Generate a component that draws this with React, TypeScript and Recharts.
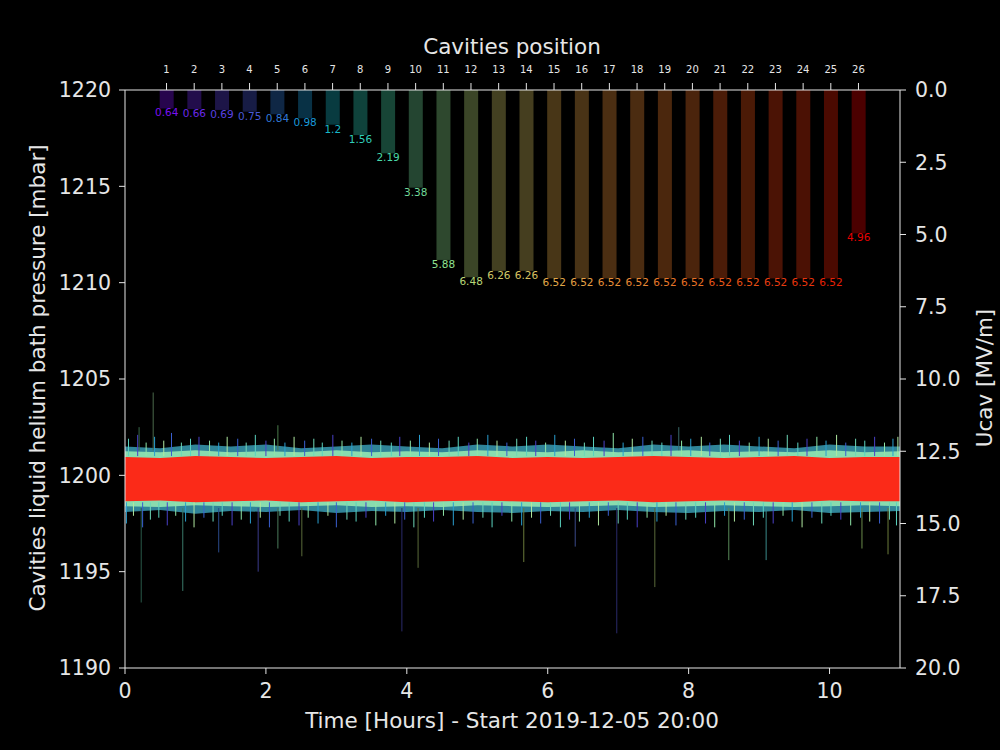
import React from 'react';
import { Area, Bar, ComposedChart, ReferenceLine, XAxis, YAxis } from 'recharts';

const FONT = '"DejaVu Sans", sans-serif';
const TEXT = '#e6e6e6';

// cavities (top axis / right axis)
const cavityPos = [1, 2, 3, 4, 5, 6, 7, 8, 9, 10, 11, 12, 13, 14, 15, 16, 17, 18, 19, 20, 21, 22, 23, 24, 25, 26];
const cavityUcav = [
  0.64, 0.66, 0.69, 0.75, 0.84, 0.98, 1.2, 1.56, 2.19, 3.38, 5.88, 6.48, 6.26, 6.26,
  6.52, 6.52, 6.52, 6.52, 6.52, 6.52, 6.52, 6.52, 6.52, 6.52, 6.52, 4.96,
];
const cavityColors = [
  '#7a10f0', '#6a28e8', '#5a40e0', '#4858d8', '#3078d8', '#1898d8', '#18b8c8', '#30ccb8',
  '#48d8a8', '#70d898', '#90e090', '#b8d878', '#d0c868', '#d8c060', '#e0a848', '#e4a044',
  '#e89038', '#e88834', '#e87828', '#e87024', '#e85818', '#e85014', '#e83c10', '#e8340c',
  '#e82004', '#e80000',
];

// pressure band (left axis / bottom axis)
const bandTime = [0, 0.5, 1, 1.5, 2, 2.5, 3, 3.5, 4, 4.5, 5, 5.5, 6, 6.5, 7, 7.5, 8, 8.5, 9, 9.5, 10, 10.5, 11];
const outerHigh = [1201.5, 1201.4, 1201.6, 1201.5, 1201.6, 1201.4, 1201.5, 1201.6, 1201.5, 1201.4, 1201.6, 1201.5, 1201.6, 1201.5, 1201.4, 1201.6, 1201.5, 1201.6, 1201.5, 1201.4, 1201.6, 1201.5, 1201.5];
const innerHigh = [1201.25, 1201.2, 1201.3, 1201.2, 1201.25, 1201.2, 1201.3, 1201.2, 1201.25, 1201.2, 1201.3, 1201.25, 1201.2, 1201.3, 1201.2, 1201.25, 1201.3, 1201.2, 1201.25, 1201.2, 1201.3, 1201.2, 1201.25];
const coreHigh = [1200.95, 1200.9, 1201.0, 1200.95, 1200.9, 1200.95, 1201.0, 1200.9, 1200.95, 1200.95, 1201.0, 1200.9, 1200.95, 1200.9, 1200.95, 1201.0, 1200.95, 1200.9, 1200.95, 1201.0, 1200.9, 1200.95, 1200.95];
const coreLow = [1198.65, 1198.7, 1198.6, 1198.65, 1198.7, 1198.6, 1198.65, 1198.7, 1198.6, 1198.65, 1198.7, 1198.65, 1198.6, 1198.65, 1198.7, 1198.6, 1198.65, 1198.7, 1198.65, 1198.6, 1198.7, 1198.65, 1198.65];
const innerLow = [1198.4, 1198.35, 1198.45, 1198.4, 1198.35, 1198.4, 1198.45, 1198.35, 1198.4, 1198.35, 1198.45, 1198.4, 1198.35, 1198.4, 1198.45, 1198.35, 1198.4, 1198.45, 1198.4, 1198.35, 1198.4, 1198.45, 1198.4];
const outerLow = [1198.1, 1198.2, 1198.0, 1198.15, 1198.1, 1198.2, 1198.05, 1198.15, 1198.1, 1198.2, 1198.1, 1198.05, 1198.15, 1198.1, 1198.2, 1198.1, 1198.05, 1198.15, 1198.1, 1198.2, 1198.05, 1198.1, 1198.15];

// short noise hairs above the band
const upHairT = [
  0.05, 0.18, 0.3, 0.42, 0.55, 0.66, 0.8, 0.93, 1.05, 1.2,
  1.33, 1.45, 1.6, 1.72, 1.85, 2.0, 2.12, 2.27, 2.4, 2.55,
  2.68, 2.8, 2.95, 3.08, 3.22, 3.35, 3.5, 3.63, 3.78, 3.9,
  4.05, 4.18, 4.32, 4.45, 4.6, 4.73, 4.88, 5.0, 5.15, 5.28,
  5.42, 5.56, 5.7, 5.83, 5.97, 6.1, 6.25, 6.38, 6.52, 6.65,
  6.8, 6.93, 7.07, 7.2, 7.35, 7.48, 7.62, 7.75, 7.9, 8.03,
  8.18, 8.3, 8.45, 8.58, 8.72, 8.86, 9.0, 9.13, 9.27, 9.4,
  9.55, 9.68, 9.82, 9.95, 10.1, 10.23, 10.37, 10.5, 10.64, 10.78,
  10.9, 10.97,
];
const upHairV = [
  1201.9, 1202.1, 1201.7, 1202.0, 1201.8, 1202.2, 1201.7, 1201.9, 1202.0, 1201.8,
  1201.7, 1202.0, 1201.9, 1201.7, 1202.1, 1201.8, 1201.9, 1201.7, 1202.0, 1201.8,
  1201.9, 1201.7, 1202.1, 1201.8, 1201.7, 1202.0, 1201.9, 1201.8, 1201.7, 1202.0,
  1201.8, 1202.1, 1201.7, 1201.9, 1201.8, 1202.0, 1201.7, 1201.9, 1202.1, 1201.8,
  1201.7, 1201.9, 1202.0, 1201.8, 1201.7, 1202.1, 1201.8, 1201.9, 1201.7, 1202.0,
  1201.8, 1202.2, 1201.7, 1201.9, 1202.0, 1201.8, 1201.7, 1202.1, 1201.8, 1201.9,
  1202.0, 1201.7, 1201.9, 1202.1, 1201.8, 1201.7, 1202.0, 1201.9, 1201.8, 1202.1,
  1201.7, 1201.9, 1202.0, 1201.8, 1202.1, 1201.7, 1201.9, 1201.8, 1202.0, 1201.7,
  1201.9, 1202.0,
];

// short noise hairs below the band
const lowHairT = [
  0.02, 0.12, 0.25, 0.36, 0.48, 0.6, 0.72, 0.86, 0.98, 1.12,
  1.25, 1.38, 1.52, 1.65, 1.78, 1.92, 2.05, 2.2, 2.33, 2.47,
  2.6, 2.74, 2.88, 3.0, 3.15, 3.28, 3.42, 3.56, 3.7, 3.83,
  3.97, 4.1, 4.25, 4.38, 4.52, 4.66, 4.8, 4.94, 5.08, 5.21,
  5.35, 5.49, 5.63, 5.77, 5.9, 6.04, 6.18, 6.31, 6.45, 6.59,
  6.72, 6.86, 7.0, 7.13, 7.27, 7.41, 7.55, 7.68, 7.82, 7.96,
  8.1, 8.24, 8.37, 8.51, 8.65, 8.79, 8.92, 9.06, 9.2, 9.34,
  9.47, 9.61, 9.75, 9.89, 10.02, 10.16, 10.3, 10.44, 10.57, 10.71,
  10.85, 10.95,
];
const lowHairV = [
  1197.5, 1197.9, 1197.3, 1197.7, 1197.8, 1197.4, 1197.9, 1197.6, 1197.3, 1197.8,
  1197.6, 1197.9, 1197.4, 1197.7, 1197.5, 1197.8, 1197.3, 1197.9, 1197.6, 1197.4,
  1197.8, 1197.5, 1197.9, 1197.3, 1197.7, 1197.6, 1197.8, 1197.4, 1197.9, 1197.5,
  1197.7, 1197.3, 1197.8, 1197.6, 1197.9, 1197.4, 1197.7, 1197.5, 1197.8, 1197.3,
  1197.9, 1197.6, 1197.4, 1197.8, 1197.5, 1197.9, 1197.3, 1197.7, 1197.6, 1197.8,
  1197.4, 1197.9, 1197.5, 1197.7, 1197.3, 1197.8, 1197.6, 1197.9, 1197.4, 1197.7,
  1197.8, 1197.5, 1197.3, 1197.9, 1197.6, 1197.7, 1197.4, 1197.8, 1197.5, 1197.9,
  1197.6, 1197.3, 1197.8, 1197.5, 1197.9, 1197.7, 1197.4, 1197.8, 1197.6, 1197.5,
  1197.7, 1197.4,
];

// the long spikes
const spikeT = [0.2, 0.4, 2.17, 7.86, 0.23, 0.82, 1.33, 1.89, 2.17, 2.51, 3.93, 4.16, 5.66, 6.39, 6.98, 7.52, 8.57, 9.1, 10.46, 10.83];
const spikeV = [1202.5, 1204.3, 1202.6, 1202.5, 1193.4, 1194.0, 1196.0, 1195.0, 1196.2, 1195.8, 1191.9, 1195.2, 1195.5, 1196.3, 1191.8, 1194.2, 1195.6, 1195.6, 1196.2, 1195.9];
const spikeColors = ['#3a6a4a', '#4a6a4a', '#4a7a4a', '#3a6a6a', '#2a5a4a', '#3a7a6a', '#2a4a8a', '#3a3a8a', '#4a7a5a', '#5a6a3a', '#2a2a6a', '#5a6a3a', '#6a7a3a', '#3a4a8a', '#2a2a6a', '#5a6a3a', '#5a8a5a', '#3a8a8a', '#6a8a4a', '#6a7a3a'];

const hairColors = ['#5bd3c0', '#4a40c8', '#8fe6a8', '#2a9fd0', '#b0e8a0', '#3a60d0', '#6fd8b8'];

const cavityData = cavityPos.map((p, i) => ({ pos: p, ucav: cavityUcav[i], color: cavityColors[i] }));
const bandData = bandTime.map((t, i) => ({
  t,
  outer: [outerLow[i], outerHigh[i]],
  inner: [innerLow[i], innerHigh[i]],
  core: [coreLow[i], coreHigh[i]],
}));

const pressureTicks = [1190, 1195, 1200, 1205, 1210, 1215, 1220];
const timeTicks = [0, 2, 4, 6, 8, 10];
const ucavTicks = [0, 2.5, 5, 7.5, 10, 12.5, 15, 17.5, 20];

const tickStyle = { fill: TEXT, fontSize: 20.5, fontFamily: FONT };

const CavityBar = (props: any) => {
  const { x, y, width, height, payload } = props;
  const top = Math.min(y, y + height);
  const bottom = Math.max(y, y + height);
  return (
    <g>
      <rect x={x} y={top} width={width} height={bottom - top} fill={payload.color} fillOpacity={0.32} />
      <text
        x={x + width / 2}
        y={bottom + 8}
        textAnchor="middle"
        fill={payload.color}
        fontSize={10.5}
        fontFamily={FONT}
      >
        {String(payload.ucav)}
      </text>
    </g>
  );
};

const titleStyle: React.CSSProperties = {
  position: 'absolute',
  color: TEXT,
  fontFamily: FONT,
  fontSize: 21.5,
  lineHeight: '24px',
  whiteSpace: 'nowrap',
  transform: 'translate(-50%, -50%)',
};

export default function App() {
  return (
    <div style={{ position: 'absolute', left: 0, top: 0, width: 1000, height: 750, background: '#000', overflow: 'hidden' }}>
      <div style={{ position: 'absolute', left: 0, top: 0 }}>
        <ComposedChart width={1000} height={750} data={bandData} margin={{ top: 90, right: 100, bottom: 52, left: 65 }}>
          <XAxis
            dataKey="t"
            type="number"
            domain={[0, 11]}
            ticks={timeTicks}
            stroke={TEXT}
            tick={tickStyle}
            tickSize={6}
            tickMargin={9}
            height={30}
          />
          <YAxis
            type="number"
            domain={[1190, 1220]}
            ticks={pressureTicks}
            allowDataOverflow
            stroke={TEXT}
            tick={tickStyle}
            tickSize={6}
            tickMargin={8}
            width={60}
          />
          <Area dataKey="outer" type="linear" stroke="none" fill="#3592a8" fillOpacity={0.9} isAnimationActive={false} />
          <Area dataKey="inner" type="linear" stroke="none" fill="#8ee0b0" fillOpacity={0.95} isAnimationActive={false} />
          {upHairT.map((t, i) => (
            <ReferenceLine
              key={'u' + i}
              segment={[{ x: t, y: 1201.0 }, { x: t, y: upHairV[i] }]}
              stroke={hairColors[i % hairColors.length]}
              strokeWidth={1}
            />
          ))}
          {lowHairT.map((t, i) => (
            <ReferenceLine
              key={'l' + i}
              segment={[{ x: t, y: 1198.6 }, { x: t, y: lowHairV[i] }]}
              stroke={hairColors[(i + 3) % hairColors.length]}
              strokeWidth={1}
            />
          ))}
          {spikeT.map((t, i) => (
            <ReferenceLine
              key={'s' + i}
              segment={[{ x: t, y: spikeV[i] > 1200 ? 1201.3 : 1198.3 }, { x: t, y: spikeV[i] }]}
              stroke={spikeColors[i]}
              strokeWidth={1}
            />
          ))}
          <Area dataKey="core" type="linear" stroke="none" fill="#fb2a18" fillOpacity={1} isAnimationActive={false} />
        </ComposedChart>
      </div>
      <div style={{ position: 'absolute', left: 0, top: 0 }}>
        <ComposedChart width={1000} height={750} data={cavityData} margin={{ top: 60, right: 40, bottom: 82, left: 125 }}>
          <XAxis
            xAxisId="pos"
            orientation="top"
            dataKey="pos"
            type="number"
            domain={[-0.5, 27.5]}
            ticks={cavityPos}
            stroke={TEXT}
            tick={{ fill: TEXT, fontSize: 10, fontFamily: FONT }}
            tickSize={7}
            tickMargin={10}
            height={30}
          />
          <YAxis
            yAxisId="ucav"
            orientation="right"
            type="number"
            reversed
            domain={[0, 20]}
            ticks={ucavTicks}
            tickFormatter={(v: number) => v.toFixed(1)}
            stroke={TEXT}
            tick={tickStyle}
            tickSize={6}
            tickMargin={9}
            width={60}
          />
          <Bar
            xAxisId="pos"
            yAxisId="ucav"
            dataKey="ucav"
            barSize={14}
            shape={CavityBar}
            isAnimationActive={false}
          />
        </ComposedChart>
      </div>
      <div style={{ ...titleStyle, left: 512, top: 47 }}>Cavities position</div>
      <div style={{ ...titleStyle, left: 512, top: 721 }}>Time [Hours] - Start 2019-12-05 20:00</div>
      <div style={{ ...titleStyle, left: 38, top: 378, transform: 'translate(-50%, -50%) rotate(-90deg)' }}>
        Cavities liquid helium bath pressure [mbar]
      </div>
      <div style={{ ...titleStyle, left: 985, top: 378, transform: 'translate(-50%, -50%) rotate(-90deg)' }}>
        Ucav [MV/m]
      </div>
    </div>
  );
}
